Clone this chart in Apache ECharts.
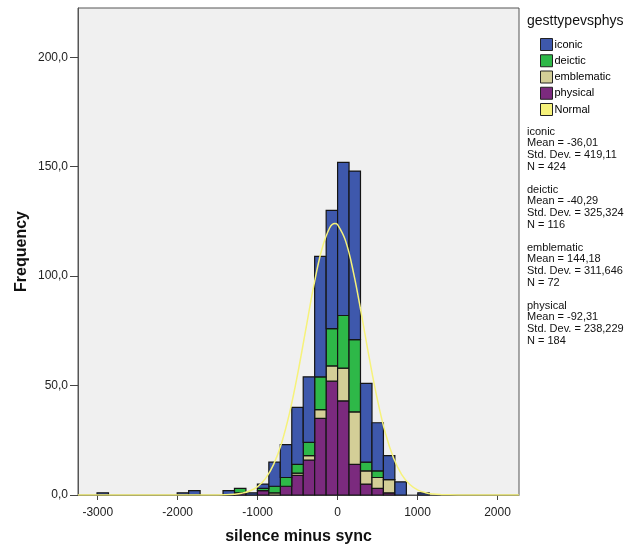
<!DOCTYPE html>
<html>
<head>
<meta charset="utf-8">
<script src="https://cdn.jsdelivr.net/npm/echarts@6/dist/echarts.min.js"></script>
<style>
html,body{margin:0;padding:0;background:#fff;}
#c{width:633px;height:546px;}
</style>
</head>
<body>
<div id="c"></div>
<script>
// ---- data ----
const binWidth = 143.3;
const binStarts = [-3009,-2006,-1863,-1433,-1290,-1146,-1003,-860,-717,-573,-430,-287,-143,0,143,287,430,573,717,1003];
const iconic     = [1,1,2,2,0,1,2,11,15,26,30,55,54,70,77,36,22,11,6,1];
const deictic    = [0,0,0,0,2,0,1,3,4,4,6,15,17,24,33,4,3,0,0,0];
const emblematic = [0,0,0,0,0,0,0,1,0,1,2,4,7,15,24,6,5,6,0,0];
const physical   = [0,0,0,0,1,0,2,0,4,9,16,35,52,43,14,5,3,1,0,0];
const groupNames = ['iconic','deictic','emblematic','physical'];
const normalX = [-3247,-1600,-1400,-1300,-1200,-1100,-1000,-900,-800,-700,-600,-500,-400,-300,-200,-100,-33,0,100,200,300,400,500,600,700,800,900,1000,1100,1200,1300,1400,1600,2269];
const normalY = [0,0.01,0.12,0.32,0.79,1.81,3.86,7.6,14.0,23.8,37.6,55.2,75.2,95.2,111.8,122.0,124.0,123.5,116.1,101.4,82.2,61.8,43.2,28.0,16.9,9.4,4.9,2.36,1.06,0.44,0.17,0.06,0.01,0];
const xTicks = [-3000,-2000,-1000,0,1000,2000];
const yTicks = [0,50,100,150,200];
const statLines = [
  'iconic','Mean = -36,01','Std. Dev. = 419,11','N = 424','',
  'deictic','Mean = -40,29','Std. Dev. = 325,324','N = 116','',
  'emblematic','Mean = 144,18','Std. Dev. = 311,646','N = 72','',
  'physical','Mean = -92,31','Std. Dev. = 238,229','N = 184'
];

// ---- styling ----
const colors = ['#3E58AC','#2EB848','#D3CE97','#7B2A7E'];
const normalColor = '#F6F27A';

const groups = [iconic, deictic, emblematic, physical];
// stack order bottom→top: physical, emblematic, deictic, iconic
const stackOrder = [3,2,1,0];
const seriesData = [[],[],[],[]];
binStarts.forEach((s, i) => {
  let base = 0;
  stackOrder.forEach(g => {
    const v = groups[g][i];
    if (v > 0) {
      seriesData[g].push([s, s + binWidth, base, base + v]);
      base += v;
    }
  });
});

function renderBin(params, api) {
  const x0 = api.value(0), x1 = api.value(1), y0 = api.value(2), y1 = api.value(3);
  const a = api.coord([x0, y1]);
  const b = api.coord([x1, y0]);
  return {
    type: 'rect',
    shape: {x: a[0], y: a[1], width: b[0] - a[0], height: b[1] - a[1]},
    style: {fill: api.visual('color'), stroke: '#151515', lineWidth: 1.2}
  };
}

const series = [];
stackOrder.forEach(g => {
  series.push({
    name: groupNames[g],
    type: 'custom',
    renderItem: renderBin,
    itemStyle: {color: colors[g]},
    encode: {x: [0, 1], y: [2, 3]},
    data: seriesData[g],
    z: 2
  });
});
series.push({
  name: 'Normal',
  type: 'line',
  smooth: 0.4,
  showSymbol: false,
  symbol: 'none',
  lineStyle: {color: normalColor, width: 1.5},
  itemStyle: {color: normalColor},
  data: normalX.map((x, i) => [x, normalY[i]]),
  z: 5
});

const chart = echarts.init(document.getElementById('c'), null, {renderer: 'canvas'});
const fontFam = '"Liberation Sans", Arial, sans-serif';
chart.setOption({
  animation: false,
  backgroundColor: '#ffffff',
  grid: {left: 78, right: 114, top: 8, bottom: 51, containLabel: false, outerBoundsMode: 'none',
    show: true, backgroundColor: '#F0F0F0', borderColor: '#555', borderWidth: 1},
  xAxis: {
    type: 'value', min: -3247, max: 2269,
    name: 'silence minus sync', nameLocation: 'middle', nameGap: 34,
    nameTextStyle: {fontFamily: fontFam, fontSize: 16, fontWeight: 'bold', color: '#111'},
    axisLine: {show: true, onZero: false, lineStyle: {color: '#555', width: 1}},
    axisTick: {show: true, length: 5, lineStyle: {color: '#444'}, customValues: xTicks},
    axisLabel: {customValues: xTicks, margin: 12, fontFamily: fontFam, fontSize: 12, color: '#222',
      formatter: v => String(v)},
    splitLine: {show: false}
  },
  yAxis: {
    type: 'value', min: 0, max: 222.5,
    name: 'Frequency', nameLocation: 'middle', nameGap: 48, nameRotate: 90, nameMoveOverlap: false,
    nameTextStyle: {fontFamily: fontFam, fontSize: 16, fontWeight: 'bold', color: '#111'},
    axisLine: {show: true, onZero: false, lineStyle: {color: '#555', width: 1}},
    axisTick: {show: true, length: 8, lineStyle: {color: '#444'}, customValues: yTicks},
    axisLabel: {customValues: yTicks, margin: 10, fontFamily: fontFam, fontSize: 12, color: '#222',
      formatter: v => v.toFixed(1).replace('.', ',')},
    splitLine: {show: false}
  },
  legend: {
    orient: 'vertical', left: 540, top: 38, padding: 0,
    itemWidth: 12, itemHeight: 12, itemGap: 3.25,
    icon: 'rect',
    textStyle: {fontFamily: fontFam, fontSize: 11, color: '#000', padding: [0, 0, 0, -3]},
    itemStyle: {borderColor: '#222', borderWidth: 1},
    data: [
      {name: 'iconic', itemStyle: {color: colors[0]}},
      {name: 'deictic', itemStyle: {color: colors[1]}},
      {name: 'emblematic', itemStyle: {color: colors[2]}},
      {name: 'physical', itemStyle: {color: colors[3]}},
      {name: 'Normal', itemStyle: {color: normalColor}}
    ]
  },
  graphic: [
    {type: 'text', left: 527, top: 14, style: {text: 'gesttypevsphys', font: '14px ' + fontFam, fill: '#111'}},
    {type: 'text', left: 527, top: 126, style: {text: statLines.join('\n'), font: '11px ' + fontFam, fill: '#111', lineHeight: 11.6}}
  ],
  series: series
});
</script>
</body>
</html>
